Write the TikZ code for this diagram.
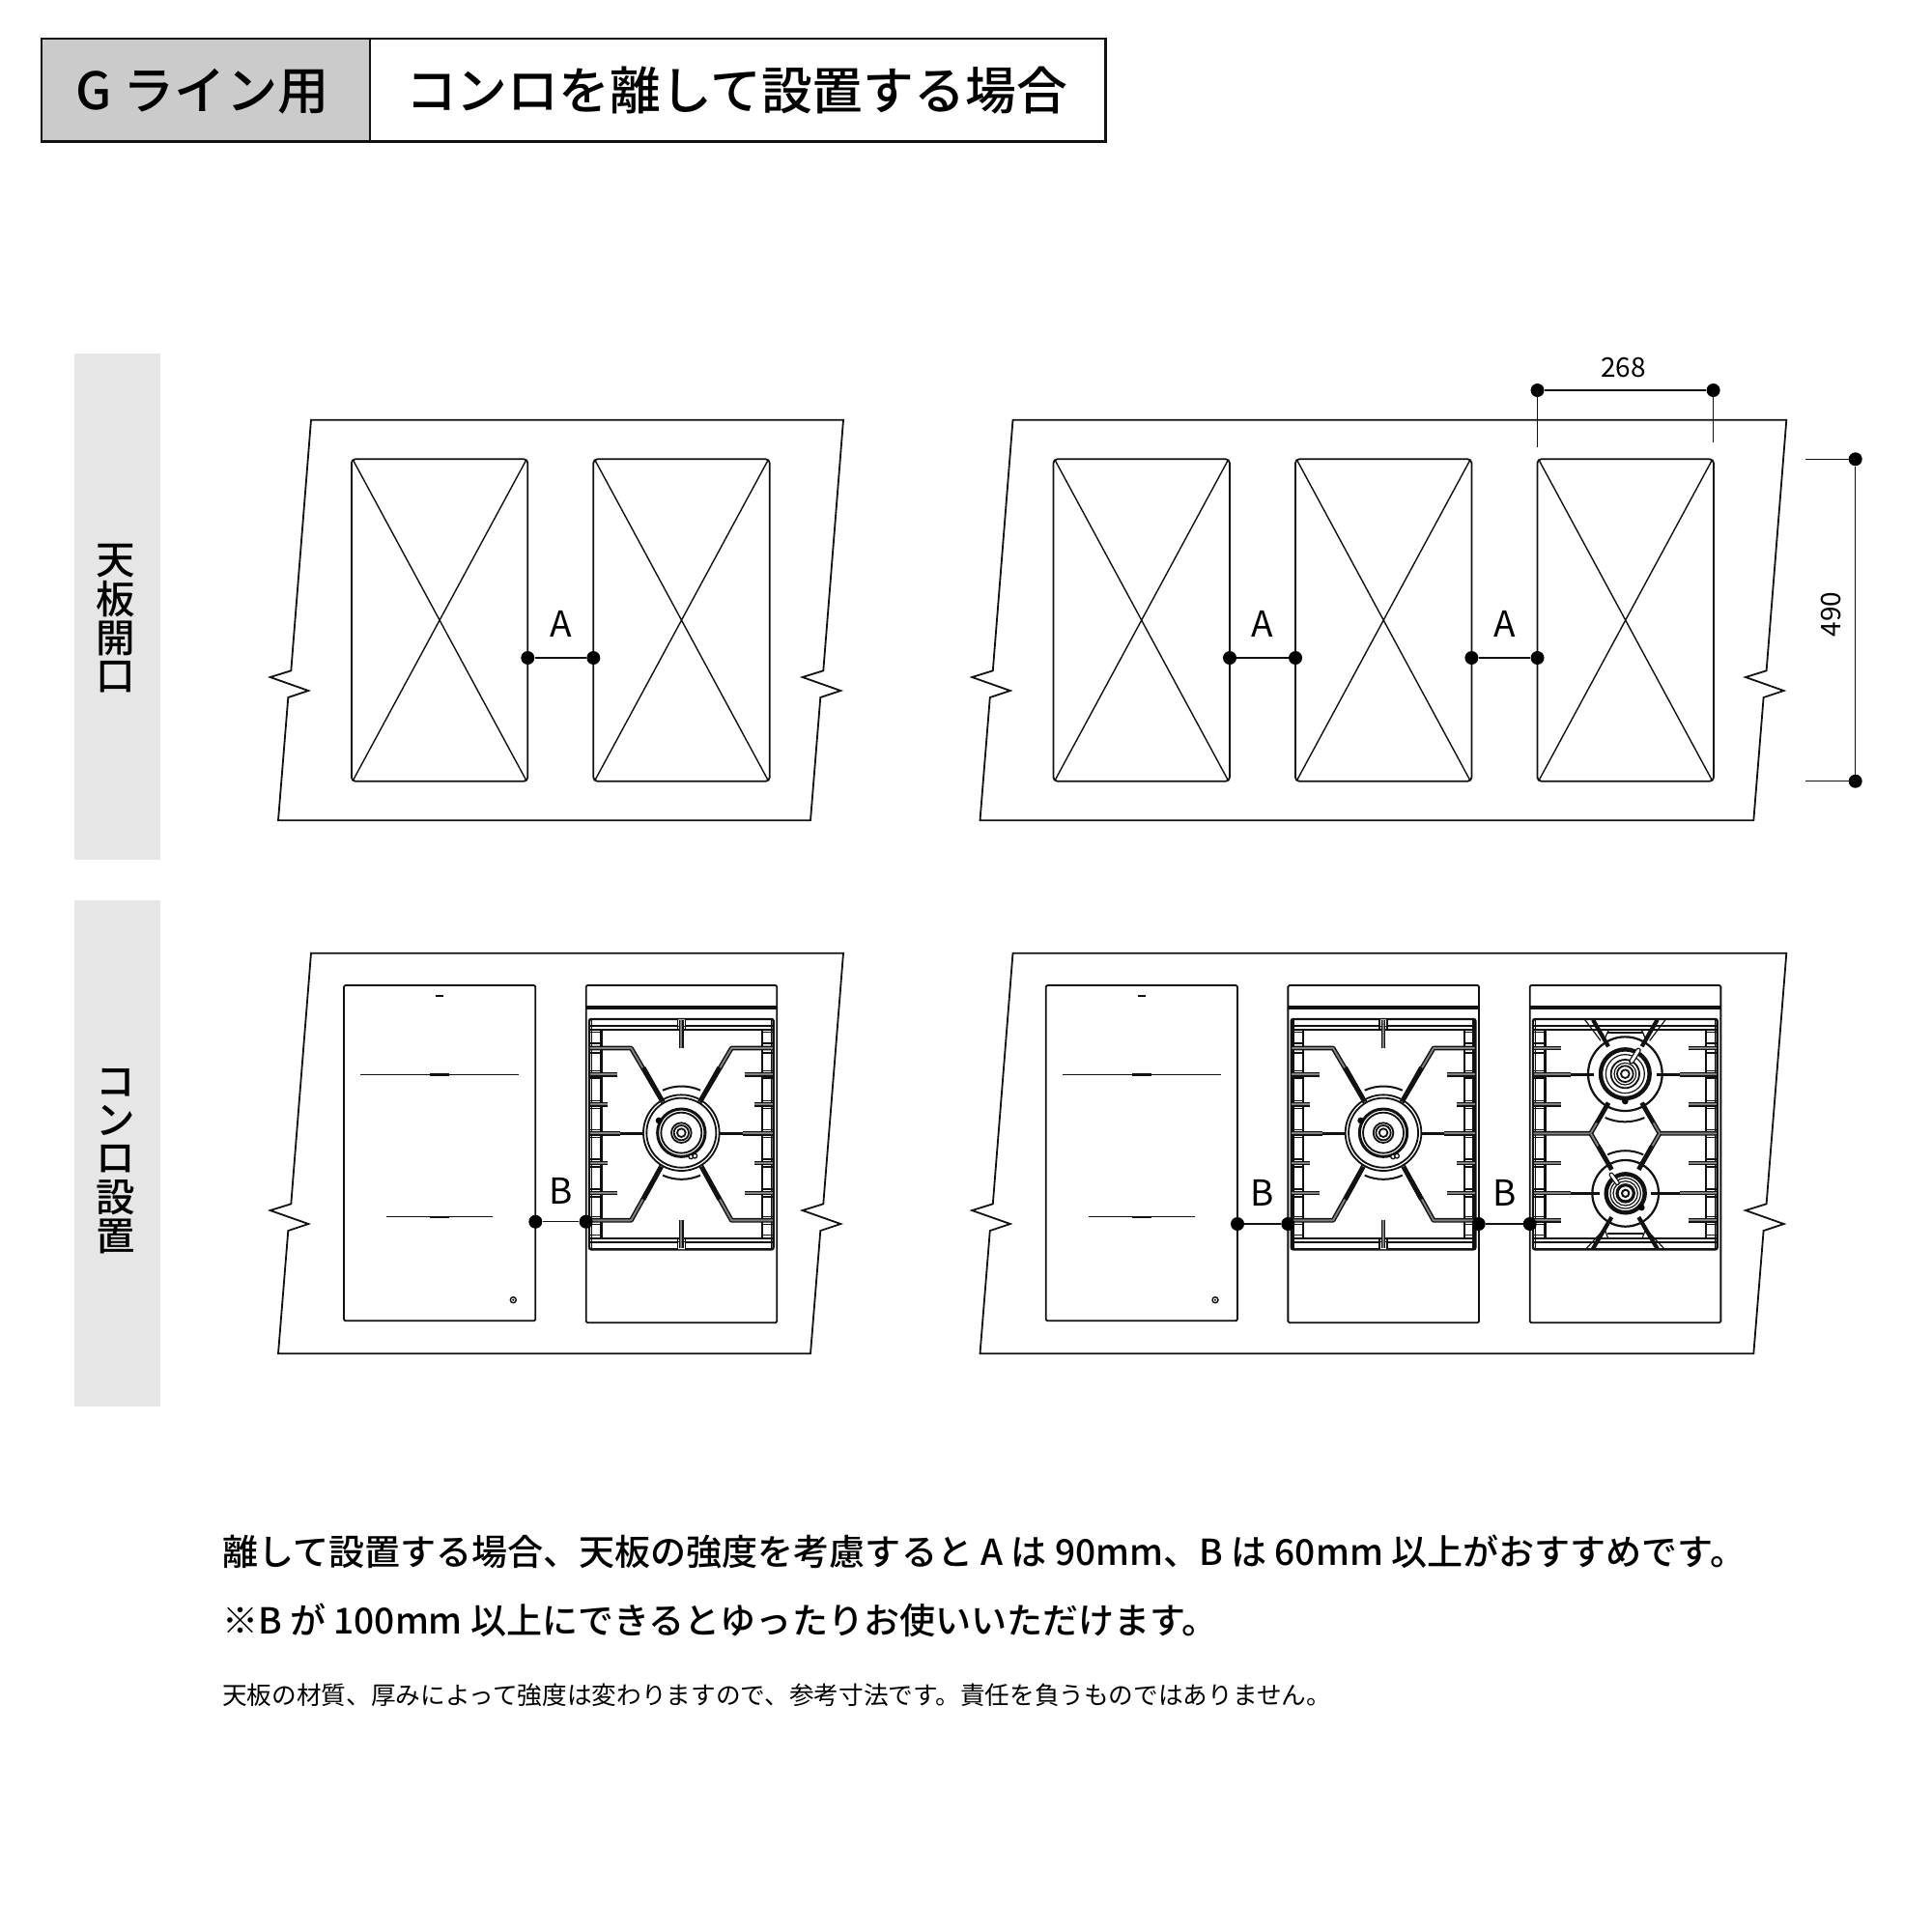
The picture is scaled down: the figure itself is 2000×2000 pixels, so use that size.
\documentclass[tikz,border=0pt]{standalone}
\usepackage{fontspec}
\setmainfont{Noto Sans CJK JP Medium}
\newfontfamily\regfont{Noto Sans CJK JP}
\definecolor{headgrey}{HTML}{CBCBCB}
\definecolor{sidegrey}{HTML}{E6E6E6}
\definecolor{inkc}{HTML}{111111}
\tikzset{
  ln/.style={draw=inkc,line width=1.8pt},
  xln/.style={draw=inkc,line width=1.4pt},
  fn/.style={draw=inkc,line width=1.2pt},
  hv/.style={draw=inkc,line width=2.4pt},
  tine/.style={draw=inkc,line width=1.45pt,double=black!50,double distance=1.9pt},
  dotn/.style={circle,fill=black,inner sep=0pt,minimum size=14pt},
  lab/.style={inner sep=0pt,anchor=base,text=black,font=\regfont\fontsize{37}{37}\selectfont},
  dimlab/.style={inner sep=0pt,anchor=center,text=black,font=\regfont\fontsize{28}{28}\selectfont},
  sidetxt/.style={inner sep=0pt,anchor=center,text=black,font=\fontsize{40.5}{40.5}\selectfont},
  headtxt/.style={inner sep=0pt,anchor=base,text=black,font=\fontsize{52.8}{52.8}\selectfont},
  para/.style={inner sep=0pt,anchor=base west,text=black,font=\fontsize{37.05}{37.05}\selectfont},
  note/.style={inner sep=0pt,anchor=base west,text=black,font=\regfont\fontsize{25.65}{25.65}\selectfont},
}
% worktop outline; #1 = width between left and right edge
\newcommand{\slabshape}[1]{%
  \draw[ln,line join=miter] (322,434.7) -- ++(-20.7,259.6) -- ++(-21.6,6.7) -- ++(39.6,14) -- ++(-21,7) -- ++(-10.3,127.3)
    -- ++(#1,0) -- ++(10.3,-127.3) -- ++(21,-7) -- ++(-39.6,-14) -- ++(21.6,-6.7) -- ++(20.7,-259.6) -- cycle;}
% cut-out with cross; #1 = left edge
\newcommand{\opening}[1]{%
  \draw[ln,rounded corners=4pt] (#1,475.3) rectangle ++(182.4,333.4);
  \draw[xln] (#1+2,477) -- (#1+180.4,807) (#1+180.4,477) -- (#1+2,807);}
% induction hob
\newcommand{\inductionhob}{%
  \draw[ln,rounded corners=2pt] (356,1020) rectangle (554.3,1367.3);
  \draw[xln] (373,1112.3) -- (537,1112.3) (400,1259.7) -- (510,1259.7);
  \draw[draw=inkc,line width=2.4pt] (445,1112.3) -- (465,1112.3) (445,1259.7) -- (465,1259.7) (451,1031) -- (459,1031);
  \draw[xln] (531.3,1345.7) circle (3);
  \fill[black] (531.3,1345.7) circle (1.2);}
% gas unit frame, in zoom coordinates
\newcommand{\unitframe}{%
  \draw[ln,rounded corners=1.5pt] (50,60) rectangle (643,1108);
  \draw[ln] (52,125) -- (643,125) (52,133) -- (643,133);
  \draw[hv,rounded corners=2pt] (60,165) rectangle (632,880);
  \draw[hv] (97,197) -- (97,847) (597,197) -- (597,847);
  \draw[fn] (67,165) -- (67,880) (625,165) -- (625,880);
  \foreach \yy in {205,240,270,325,348,418,442,508,532,600,624,693,717,778,802,836}
    \draw[fn] (62,\yy) -- (97,\yy) (597,\yy) -- (632,\yy);
}
\newcommand{\topbars}{%
  \draw[ln] (62,187) -- (632,187) (62,197) -- (632,197) (62,847) -- (632,847) (62,857) -- (632,857);}
\begin{document}
\begin{tikzpicture}[x=1pt,y=-1pt]
\useasboundingbox (0,0) rectangle (2000,2000);
\fill[white] (0,0) rectangle (2000,2000);
% header
\fill[headgrey] (43,40) rectangle (383,146.5);
\draw[draw=inkc,line width=2.8pt] (43,40) rectangle (1144.5,146.5);
\draw[draw=inkc,line width=2.8pt] (383,40) -- (383,146.5);
\node[headtxt,font=\fontsize{53.2}{53.2}\selectfont] (h1) at (209.5,113.5) {G ライン用};
\node[headtxt] (h2) at (762.5,113.5) {コンロを離して設置する場合};
% side bars
\fill[sidegrey] (77,366) rectangle (166,889.5);
\fill[sidegrey] (77,932) rectangle (166,1456);
\node[sidetxt] (s1) at (119.5,581) {天};
\node[sidetxt] (s2) at (119.5,620.5) {板};
\node[sidetxt] (s3) at (119.5,660.5) {開};
\node[sidetxt] (s4) at (119.5,700.5) {口};
\node[sidetxt] (t1) at (119.5,1120.5) {コ};
\node[sidetxt] (t2) at (119.5,1160) {ン};
\node[sidetxt] (t3) at (119.5,1200) {ロ};
\node[sidetxt] (t4) at (119.5,1240) {設};
\node[sidetxt] (t5) at (119.5,1280) {置};
% top row
\slabshape{551}
\begin{scope}[shift={(726.5,0)}]\slabshape{800.8}\end{scope}
\opening{363.9}\opening{614.3}\opening{1090.5}\opening{1341}\opening{1591.5}
\node[dotn] (a1) at (546.3,681) {};
\node[dotn] (a2) at (614.3,681) {};
\node[dotn] (a3) at (1273,681) {};
\node[dotn] (a4) at (1341,681) {};
\node[dotn] (a5) at (1523.4,681) {};
\node[dotn] (a6) at (1591.5,681) {};
\draw[xln] (a1) -- (a2);
\draw[xln] (a3) -- (a4);
\draw[xln] (a5) -- (a6);
\node[lab] (la1) at (580.5,659.5) {A};
\node[lab] (la2) at (1307,659.5) {A};
\node[lab] (la3) at (1557.7,659.5) {A};
% dimensions
\node[dotn] (w1) at (1591.5,404) {};
\node[dotn] (w2) at (1773.6,404) {};
\coordinate (w1e) at (1591.5,463);
\coordinate (w2e) at (1773.6,458);
\draw[xln] (w1) -- (w2);
\draw[xln] (w1.center) -- (w1e);
\draw[xln] (w2.center) -- (w2e);
\node[dimlab] (d268) at (1680.5,381) {268};
\node[dotn] (v1) at (1920.7,475.3) {};
\node[dotn] (v2) at (1920.7,808.7) {};
\coordinate (v1e) at (1869.3,475.3);
\coordinate (v2e) at (1869.3,808.7);
\draw[xln] (v1) -- (v2);
\draw[xln] (v1.center) -- (v1e);
\draw[xln] (v2.center) -- (v2e);
\node[dimlab,rotate=90] (d490) at (1895,636) {490};
% bottom row
\begin{scope}[shift={(0,552)}]\slabshape{551}\end{scope}
\begin{scope}[shift={(726.5,552)}]\slabshape{800.8}\end{scope}
\inductionhob
\begin{scope}[shift={(726.7,0)}]\inductionhob\end{scope}
% gas unit, single burner (twice)
\foreach \ox in {590,1316.7}{
\begin{scope}[shift={(\ox,1000)},x=0.33333pt,y=-0.33333pt]
  \unitframe
  \topbars
  \fill[white] (334,166) rectangle (358,186) (334,858) rectangle (358,879);
  \draw[fn] (334,166) -- (334,197) (358,166) -- (358,197) (334,847) -- (334,879) (358,847) -- (358,879);
  \draw[tine] (346,168) -- (346,255);
  \draw[tine] (346,877) -- (346,790);
  \foreach \sg in {1,-1}{
    \draw[tine,line join=round] (346+\sg*284,255) -- (346+\sg*156,255) -- (346+\sg*56,425);
    \draw[tine,line join=round] (346+\sg*284,790) -- (346+\sg*156,790) -- (346+\sg*61,620);
    \draw[draw=inkc,line width=4.6pt] (346+\sg*118,315) -- (346+\sg*58,421);
    \draw[draw=inkc,line width=4.6pt] (346+\sg*118,725) -- (346+\sg*63,624);
    \draw[tine] (346+\sg*284,337) -- (346+\sg*198,337);
    \draw[tine] (346+\sg*284,430) -- (346+\sg*228,430);
    \draw[tine] (346+\sg*284,612) -- (346+\sg*228,612);
    \draw[tine] (346+\sg*284,705) -- (346+\sg*198,705);
    \draw[tine] (346+\sg*284,520) -- (346+\sg*190,520);
    \draw[draw=inkc,line width=3pt] (346+\sg*190,520) -- (346+\sg*118,520);
  }
  \draw[ln] (346,518) circle (118);
  \draw[ln] (346,518) circle (108);
  \draw[draw=inkc,line width=2pt] (346-58,518-132) arc[start angle=-114,end angle=-66,radius=144];
  \draw[draw=inkc,line width=2pt] (346-58,518+132) arc[start angle=114,end angle=66,radius=144];
  \draw[draw=inkc,line width=3pt] (346,518) circle (74);
  \draw[ln] (346,518) circle (63);
  \fill[black] (276,480) circle (10);
  \draw[draw=inkc,fill=white,line width=1.3pt] (376,592) circle (7);
  \draw[draw=inkc,fill=white,line width=1.3pt] (388,590) circle (7);
  \draw[ln] (346,518) circle (31);
  \draw[ln] (346,518) circle (23);
  \draw[ln] (346,518) circle (13);
\end{scope}}
% gas unit, two burners
\begin{scope}[shift={(1567,1000)},x=0.33333pt,y=-0.33333pt]
  \unitframe
  \topbars
  \foreach \sg in {1,-1}{
    \draw[fn] (346+\sg*76,232) -- (346+\sg*125,167);
    \draw[fn] (346+\sg*52,200) -- (346+\sg*66,232);
    \draw[fn] (346+\sg*52,848) -- (346+\sg*66,812);
    \draw[fn] (346+\sg*60,812) -- (346+\sg*122,879);
    \draw[draw=inkc,line width=4.2pt] (346+\sg*52,250) -- (346+\sg*100,167);
    \draw[draw=inkc,line width=4.2pt] (346+\sg*42,780) -- (346+\sg*100,878);
    \draw[tine,line join=round] (346+\sg*284,520) -- (346+\sg*107,520) -- (346+\sg*52,425);
    \draw[tine,line join=round] (346+\sg*107,520) -- (346+\sg*42,632);
    \draw[draw=inkc,line width=3.6pt] (346+\sg*88,487) -- (346+\sg*52,425);
    \draw[draw=inkc,line width=3.6pt] (346+\sg*82,558) -- (346+\sg*42,632);
    \draw[tine] (346+\sg*284,255) -- (346+\sg*198,255);
    \draw[tine] (346+\sg*284,430) -- (346+\sg*198,430);
    \draw[tine] (346+\sg*284,612) -- (346+\sg*198,612);
    \draw[tine] (346+\sg*284,790) -- (346+\sg*198,790);
    \draw[tine] (346+\sg*284,337) -- (346+\sg*170,337);
    \draw[draw=inkc,line width=3pt] (346+\sg*170,337) -- (346+\sg*98,337);
    \draw[tine] (346+\sg*284,705) -- (346+\sg*170,705);
    \draw[draw=inkc,line width=3pt] (346+\sg*170,705) -- (346+\sg*80,705);
  }
  \draw[ln] (290,207) -- (402,207) (290,830) -- (402,830);
  % upper burner
  \draw[draw=inkc,line width=2.2pt] (346,335) circle (115);
  \draw[draw=inkc,line width=2pt] (346-62,335+136) arc[start angle=114,end angle=66,radius=150];
  \draw[draw=inkc,line width=4.4pt] (346,335) circle (76);
  \draw[fn] (346,335) circle (60);
  \draw[ln] (346,335) circle (44);
  \draw[fn] (346,335) circle (34);
  \draw[ln] (346,335) circle (25);
  \draw[ln] (346,335) circle (13);
  \fill[black] (346,420) circle (10);
  \draw[draw=inkc,line width=5.5pt,line cap=round] (366,296) -- (387,262);
  \draw[draw=white,line width=3pt,line cap=round] (366,296) -- (387,262);
  % lower burner
  \draw[draw=inkc,line width=2.2pt] (347,706) circle (103);
  \draw[draw=inkc,line width=2pt] (347-56,706-120) arc[start angle=-115,end angle=-65,radius=132];
  \draw[draw=inkc,line width=4.4pt] (347,706) circle (60);
  \draw[fn] (347,706) circle (47);
  \draw[fn] (347,706) circle (38);
  \draw[draw=inkc,line width=3.2pt] (347,706) circle (26);
  \draw[draw=inkc,fill=white,line width=2pt] (347,706) circle (11);
  \fill[black] (397,750) circle (10);
  \draw[draw=inkc,line width=5pt,line cap=round] (322,674) -- (303,648);
  \draw[draw=white,line width=2.6pt,line cap=round] (322,674) -- (303,648);
\end{scope}
\node[dotn] (b1) at (554.3,1264.7) {};
\node[dotn] (b2) at (606.6,1264.7) {};
\node[dotn] (b3) at (1281,1267) {};
\node[dotn] (b4) at (1333.3,1267) {};
\node[dotn] (b5) at (1530.7,1267) {};
\node[dotn] (b6) at (1583.7,1267) {};
\draw[xln] (b1) -- (b2);
\draw[xln] (b3) -- (b4);
\draw[xln] (b5) -- (b6);
\node[lab] (lb1) at (580.5,1246.5) {B};
\node[lab] (lb2) at (1306.5,1248.5) {B};
\node[lab] (lb3) at (1557.7,1248.5) {B};
% text
\node[para] (p1) at (230,1620) {離して設置する場合、天板の強度を考慮すると A は 90mm、B は 60mm 以上がおすすめです。};
\node[para] (p2) at (230,1691) {※B が 100mm 以上にできるとゆったりお使いいただけます。};
\node[note] (p3) at (230,1764.5) {天板の材質、厚みによって強度は変わりますので、参考寸法です。責任を負うものではありません。};
\end{tikzpicture}
\end{document}
